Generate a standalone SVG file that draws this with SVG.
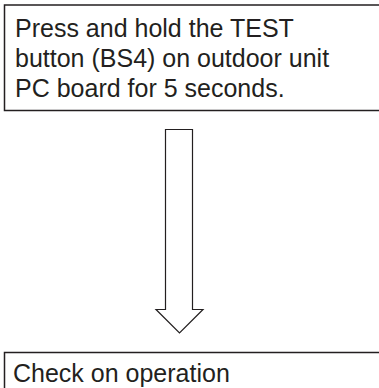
<svg xmlns="http://www.w3.org/2000/svg" width="379" height="388" viewBox="0 0 379 388">
<style>
.box{fill:#fff;stroke:#231f20;stroke-width:1.5}
.arrow{fill:#fff;stroke:#231f20;stroke-width:1.2;stroke-linejoin:miter}
.t{font-family:"Liberation Sans",Arial,sans-serif;font-size:25px;fill:#231f20}
</style>
<rect width="379" height="388" fill="#fff"/>
<g id="step1">
<rect class="box" x="4.5" y="5" width="390" height="105.5"/>
<text class="t" x="15" y="37">Press and hold the TEST</text>
<text class="t" x="15" y="67">button (BS4) on outdoor unit</text>
<text class="t" x="15" y="97">PC board for 5 seconds.</text>
</g>
<g id="connectors">
<path class="arrow" d="M165.5,129.5 H192.5 V309.5 H203 L179.5,333 L156,309.5 H165.5 Z"/>
</g>
<g id="step2">
<rect class="box" x="4.5" y="352.5" width="390" height="60"/>
<text class="t" x="13" y="382">Check on operation</text>
</g>
</svg>
